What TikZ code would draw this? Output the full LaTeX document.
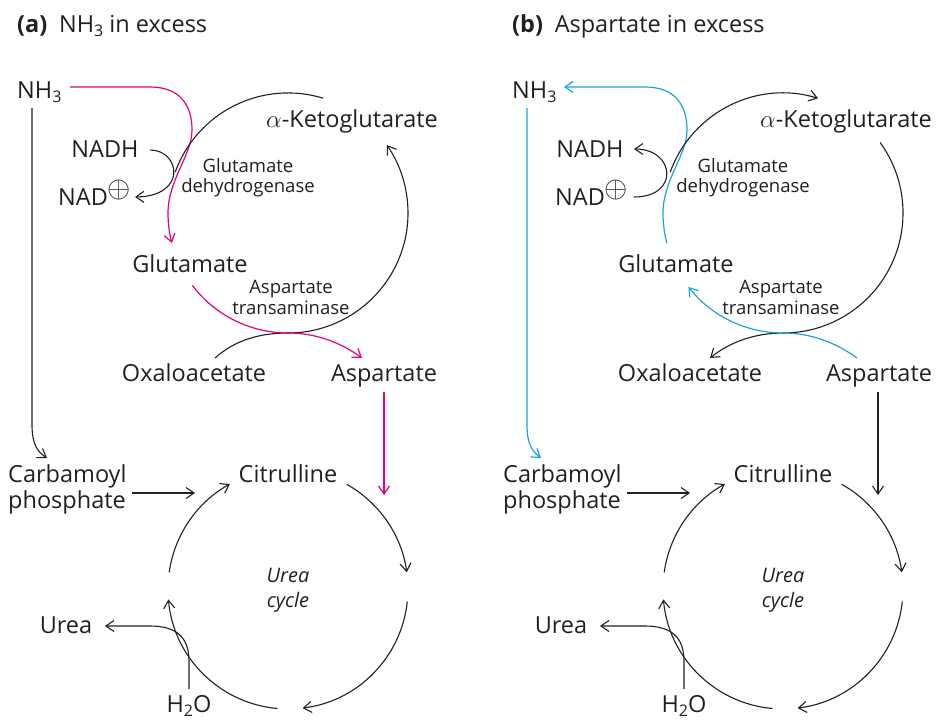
\documentclass[tikz,border=0pt]{standalone}
\usepackage{fontspec}
\setmainfont{Open Sans}
\usetikzlibrary{arrows.meta}
\definecolor{txt}{HTML}{231F20}
\definecolor{mag}{HTML}{E5007D}
\definecolor{cya}{HTML}{1BA3DE}
\newcommand{\lowsub}[1]{\raisebox{-4.5pt}{\fontsize{16}{16}\selectfont #1}}
\newcommand{\plusmark}{\raisebox{8pt}{\scalebox{1.2}{$\oplus$}}}
\tikzset{
  lbl/.style={font=\fontsize{23.5}{26}\selectfont, text=txt, inner sep=0pt, anchor=base},
  sml/.style={font=\fontsize{18.5}{21}\selectfont, text=txt, inner sep=0pt, anchor=base},
  cyc/.style={font=\fontsize{20}{24}\selectfont\itshape, text=txt, inner sep=0pt, anchor=base},
  conn/.style={draw=txt, line width=1.1pt},
  magl/.style={draw=mag, line width=1.2pt},
  cyal/.style={draw=cya, line width=1.2pt},
  tip/.style={-{Straight Barb[length=8pt,width=11pt]}},
  tipr/.style={{Straight Barb[length=8pt,width=11pt]}-},
  ureacycle/.pic={
    \node[lbl] (-cit) at (0,-107) {Citrulline};
    \node[lbl,anchor=base west] (-cp1) at (-280,-107) {Carbamoyl};
    \node[lbl,anchor=base west] (-cp2) at (-280,-81) {phosphate};
    \node[cyc] (-t1) at (0,-7) {Urea};
    \node[cyc] (-t2) at (0,18) {cycle};
    \node[lbl] (-urea) at (-222,44) {Urea};
    \node[lbl] (-h2o) at (-99,123) {H\lowsub{2}O};
    \coordinate (-cpe) at (-156,-96);
    \coordinate (-cpt) at (-93,-96);
    \coordinate (-h2ot) at (-99,100);
    \coordinate (-ureat) at (-183,37);
    \draw[conn,tip] (-cpe) -- (-cpt);
    \draw[conn,tip] (58.7,-104.7) arc[start angle=-60.7,end angle=-8,radius=120];
    \draw[conn,tip] (119.3,12.5) arc[start angle=6,end angle=83,radius=120];
    \draw[conn,tip] (-10.5,119.5) arc[start angle=95,end angle=175,radius=120];
    \draw[conn,tip] (-118.8,-16.7) arc[start angle=-172,end angle=-119,radius=120];
    \draw[conn,tip] (-h2ot) -- (-99,72) .. controls (-99,48) and (-112,37) .. (-138,37) -- (-ureat);
  }
}
\begin{document}
\begin{tikzpicture}[x=1pt,y=-1pt]
\useasboundingbox (0,0) rectangle (937,720);

% titles
\node[lbl, anchor=base west] (ta) at (17,32) {\textbf{(a)}\hspace{0.5em}NH\lowsub{3} in excess};
\node[lbl, anchor=base west] (tb) at (512,32) {\textbf{(b)}\hspace{0.5em}Aspartate in excess};

% ---------- panel (a) ----------
\node[lbl, anchor=base west] (a-nh3) at (17,98) {NH\lowsub{3}};
\node[lbl] (a-nadh) at (105,157) {NADH};
\node[lbl, anchor=base west] (a-nad) at (58,205) {NAD\plusmark};
\node[lbl] (a-akg) at (352,127) {$\alpha$-Ketoglutarate};
\node[sml] (a-gdh1) at (248,172) {Glutamate};
\node[sml] (a-gdh2) at (248,192) {dehydrogenase};
\node[lbl] (a-glu) at (190,272) {Glutamate};
\node[sml] (a-at1) at (291,293) {Aspartate};
\node[sml] (a-at2) at (291,314) {transaminase};
\node[lbl] (a-oaa) at (194,381) {Oxaloacetate};
\node[lbl] (a-asp) at (384,381) {Aspartate};
\pic (a-uc) at (288,589) {ureacycle};

\coordinate (a-nh3s) at (32,108);
\coordinate (a-cpt) at (47,458);
\coordinate (a-nh3e) at (70,87);
\coordinate (a-nadhe) at (150,150);
\coordinate (a-nadt) at (135,197);
\coordinate (a-oaat) at (215,358);
\coordinate (a-aspt) at (362,358);
\coordinate (a-asps) at (384,392);
\coordinate (a-ucin) at (384,495);

\draw[conn,tip] (a-nh3s) -- (32,425) .. controls (32,445) and (38,452) .. (a-cpt);
\draw[magl,tip] (a-nh3e) -- (150,87) .. controls (180,87) and (192,105) .. (192,130) .. controls (192,155) and (168,180) .. (168,213) arc[start angle=180,end angle=165.5,radius=120];
\draw[conn] (323.1,98.2) arc[start angle=-73,end angle=-160,radius=120];
\draw[conn,tip] (a-nadhe) .. controls (180,150) and (188,196) .. (a-nadt);
\draw[conn,tip] (a-oaat) .. controls (235,340) and (260,333) .. (288,333) arc[start angle=90,end angle=-34.5,radius=120];
\draw[magl,tip] (192.2,285.2) arc[start angle=143,end angle=90,radius=120] .. controls (315,333) and (340,342) .. (a-aspt);
\draw[magl,tip] (a-asps) -- (a-ucin);

% ---------- panel (b) ----------
\node[lbl, anchor=base west] (b-nh3) at (512,98) {NH\lowsub{3}};
\node[lbl] (b-nadh) at (590,157) {NADH};
\node[lbl, anchor=base west] (b-nad) at (555,205) {NAD\plusmark};
\node[lbl] (b-akg) at (846,127) {$\alpha$-Ketoglutarate};
\node[sml] (b-gdh1) at (743,172) {Glutamate};
\node[sml] (b-gdh2) at (743,192) {dehydrogenase};
\node[lbl] (b-glu) at (676,272) {Glutamate};
\node[sml] (b-at1) at (781,293) {Aspartate};
\node[sml] (b-at2) at (781,314) {transaminase};
\node[lbl] (b-oaa) at (690,381) {Oxaloacetate};
\node[lbl] (b-asp) at (879,381) {Aspartate};
\pic (b-uc) at (783,589) {ureacycle};

\coordinate (b-nh3s) at (527,108);
\coordinate (b-cpt) at (541,458);
\coordinate (b-nh3e) at (564,87);
\coordinate (b-nadht) at (634,149);
\coordinate (b-nade) at (634,197);
\coordinate (b-oaat) at (710,358);
\coordinate (b-asps2) at (857,358);
\coordinate (b-asps) at (878,392);
\coordinate (b-ucin) at (878,495);

\draw[cyal,tip] (b-nh3s) -- (527,425) .. controls (527,445) and (533,452) .. (b-cpt);
\draw[cyal,tipr] (b-nh3e) -- (645,87) .. controls (675,87) and (687,105) .. (687,130) .. controls (687,155) and (663,180) .. (663,213) arc[start angle=180,end angle=165.5,radius=120];
\draw[conn,tip] (670.2,172) arc[start angle=-160,end angle=-73,radius=120];
\draw[conn,tip] (b-nade) .. controls (680,197) and (675,149) .. (b-nadht);
\draw[conn,tip] (880.1,142.5) arc[start angle=-36,end angle=90,radius=120] .. controls (755,333) and (730,342) .. (b-oaat);
\draw[cyal,tip] (b-asps2) .. controls (835,342) and (810,333) .. (783,333) arc[start angle=90,end angle=142,radius=120];
\draw[conn,tip] (b-asps) -- (b-ucin);
\end{tikzpicture}
\end{document}
